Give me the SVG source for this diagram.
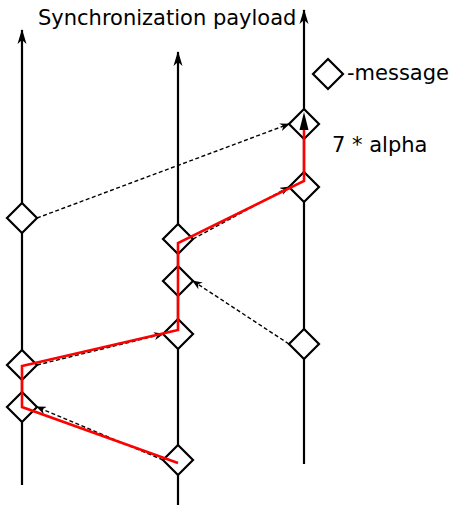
<svg xmlns="http://www.w3.org/2000/svg" width="452" height="505" viewBox="0 0 452 505">
  <style>
    .axis { stroke: #000; stroke-width: 2.2; fill: none; }
    .msg { stroke: #000; stroke-width: 2.2; fill: #fff; }
    .send { stroke: #000; stroke-width: 1.4; stroke-dasharray: 4 2.5; fill: none; }
    .path { stroke: #ff0000; stroke-width: 2.6; fill: none; stroke-linejoin: miter; }
    text { font-family: "DejaVu Sans", "Liberation Sans", sans-serif; font-size: 21px; fill: #000; }
  </style>
  <defs>
    <marker id="up" markerWidth="16" markerHeight="10" refX="15" refY="5" orient="auto" markerUnits="userSpaceOnUse" viewBox="0 0 16 10">
      <path d="M16 5 L1 0.5 L5 5 L1 9.5 Z" fill="#000"/>
    </marker>
    <marker id="tip" markerWidth="10" markerHeight="8" refX="9" refY="4" orient="auto" markerUnits="userSpaceOnUse" viewBox="0 0 10 8">
      <path d="M10 4 L0 0 L3 4 L0 8 Z" fill="#000"/>
    </marker>
    <path id="dia" d="M0 -15 L15 0 L0 15 L-15 0 Z"/>
  </defs>

  <!-- time axes of the three nodes -->
  <g id="axis-a">
    <line class="axis" x1="22" y1="485" x2="22" y2="30" marker-end="url(#up)"/>
  </g>
  <g id="axis-b">
    <line class="axis" x1="178" y1="505" x2="178" y2="52" marker-end="url(#up)"/>
  </g>
  <g id="axis-c">
    <line class="axis" x1="304" y1="464" x2="304" y2="10" marker-end="url(#up)"/>
  </g>

  <!-- message events -->
  <g id="msg-a1"><use href="#dia" class="msg" x="22" y="218"/></g>
  <g id="msg-a2"><use href="#dia" class="msg" x="22" y="365"/></g>
  <g id="msg-a3"><use href="#dia" class="msg" x="22" y="407"/></g>
  <g id="msg-b1"><use href="#dia" class="msg" x="178" y="239"/></g>
  <g id="msg-b2"><use href="#dia" class="msg" x="178" y="281"/></g>
  <g id="msg-b3"><use href="#dia" class="msg" x="178" y="334"/></g>
  <g id="msg-b4"><use href="#dia" class="msg" x="178" y="460"/></g>
  <g id="msg-c1"><use href="#dia" class="msg" x="304" y="124"/></g>
  <g id="msg-c2"><use href="#dia" class="msg" x="304" y="187"/></g>
  <g id="msg-c3"><use href="#dia" class="msg" x="304" y="344"/></g>

  <!-- messages sent between nodes -->
  <g id="connectors">
    <line class="send" x1="37" y1="218" x2="289" y2="124" marker-end="url(#tip)"/>
    <line class="send" x1="193" y1="239" x2="289" y2="187" marker-end="url(#tip)"/>
    <line class="send" x1="289" y1="344" x2="193" y2="281" marker-end="url(#tip)"/>
    <line class="send" x1="37" y1="365" x2="163" y2="334" marker-end="url(#tip)"/>
    <line class="send" x1="163" y1="460" x2="37" y2="407" marker-end="url(#tip)"/>
  </g>

  <!-- synchronization chain -->
  <g id="chain">
    <polyline class="path" points="178,463 22,407 22,366 178,330 178,243 304,181 304,130"/>
    <path d="M304 112 L308.5 130 L299.5 130 Z" fill="#000"/>
  </g>

  <!-- legend -->
  <g id="legend">
    <use href="#dia" class="msg" x="328" y="74"/>
    <text x="347" y="80">-message</text>
  </g>

  <g id="labels">
    <text x="38" y="25">Synchronization payload</text>
    <text x="332" y="152">7 * alpha</text>
  </g>
</svg>
